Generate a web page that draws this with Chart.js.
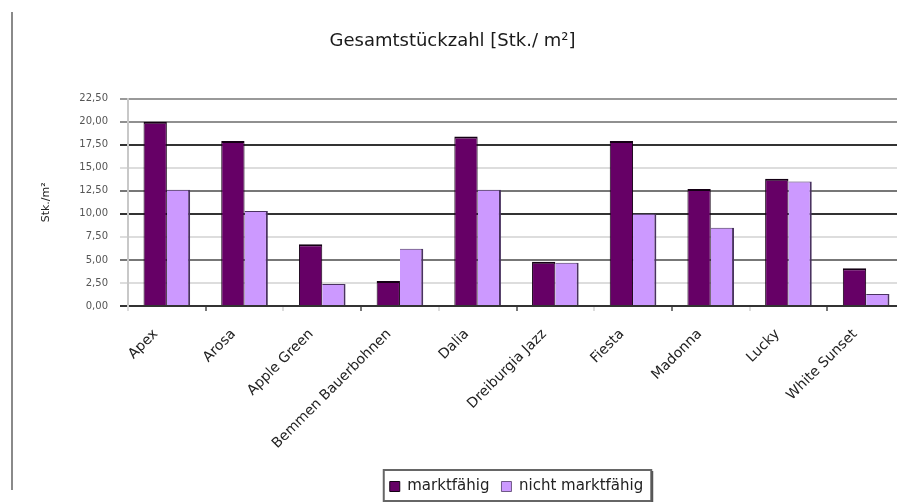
<!DOCTYPE html>
<html>
<head>
<meta charset="utf-8">
<script src="https://cdn.jsdelivr.net/npm/chart.js@4/dist/chart.umd.min.js"></script>
<style>
  html, body { margin: 0; padding: 0; background: #fff; overflow: hidden; }
  #wrap { position: relative; width: 897px; height: 504px; overflow: hidden; }
  #frame { position: absolute; left: 11px; top: 12px; width: 2px; height: 478px; background: #8a8a8a; }
  #myChart { position: absolute; left: 0; top: 0; }
</style>
</head>
<body>
<div id="wrap">
  <div id="frame"></div>
  <canvas id="myChart" width="930" height="504"></canvas>
</div>
<script>
'use strict';

const sorten = [
  'Apex',
  'Arosa',
  'Apple Green',
  'Bemmen Bauerbohnen',
  'Dalia',
  'Dreiburgia Jazz',
  'Fiesta',
  'Madonna',
  'Lucky',
  'White Sunset'
];
const marktfaehig = [20.0, 17.9, 6.7, 2.7, 18.4, 4.8, 17.9, 12.7, 13.8, 4.1];
const nichtMarktfaehig = [12.6, 10.3, 2.4, 6.2, 12.6, 4.7, 10.0, 8.5, 13.5, 1.3];
const yTicks = [0, 2.5, 5, 7.5, 10, 12.5, 15, 17.5, 20, 22.5];

const titel = 'Gesamtstückzahl [Stk./ m²]';
const achsenTitel = 'Stk./m²';
const serienNamen = ['marktfähig', 'nicht marktfähig'];

// gridline shades, bottom to top
const gridShades = ['#333', '#ddd', '#777', '#ddd', '#333', '#777', '#ddd', '#333', '#909090', '#999'];
const xTickShades = ['#ddd', '#777'];

const font = 'DejaVu Sans';

// frame around the legend, with a darker edge on the right
const legendBox = {
  id: 'legendBox',
  afterDraw(chart) {
    const boxes = chart.legend.legendHitBoxes;
    if (!boxes || !boxes.length) return;
    const left = Math.min(...boxes.map(b => b.left)) - 6;
    const right = Math.max(...boxes.map(b => b.left + b.width)) + 8;
    const ctx = chart.ctx;
    ctx.save();
    ctx.strokeStyle = '#666';
    ctx.lineWidth = 2;
    ctx.strokeRect(left, 470, right - left, 31);
    ctx.fillStyle = '#555';
    ctx.fillRect(right, 471, 2, 31);
    ctx.restore();
  }
};

function fmt(v) {
  return v.toFixed(2).replace('.', ',');
}

let ctx = document.getElementById('myChart').getContext('2d');
let chart = new Chart(ctx, {
  type: 'bar',
  data: {
    labels: sorten,
    datasets: [{
      label: serienNamen[0],
      data: marktfaehig,
      backgroundColor: '#660066',
      borderColor: '#140014',
      borderWidth: { top: 2, right: 1, left: 1, bottom: 0 },
      borderSkipped: 'bottom'
    },
    {
      label: serienNamen[1],
      data: nichtMarktfaehig,
      backgroundColor: '#cc99ff',
      borderColor: '#4a3360',
      borderWidth: { top: 1, right: 2, left: 0, bottom: 0 },
      borderSkipped: 'bottom'
    }]
  },
  options: {
    responsive: false,
    animation: false,
    devicePixelRatio: 1,
    layout: { padding: { left: 0, right: 25, top: 0, bottom: 0 } },
    datasets: {
      bar: { categoryPercentage: 0.6, barPercentage: 1.0 }
    },
    plugins: {
      title: {
        display: true,
        text: titel,
        color: '#1a1a1a',
        font: { family: font, size: 18, weight: 'normal' },
        padding: { top: 31, bottom: 46 }
      },
      legend: {
        position: 'bottom',
        fullSize: false,
        labels: {
          color: '#222',
          font: { family: font, size: 15 },
          boxWidth: 10,
          boxHeight: 10,
          padding: 12
        }
      },
      tooltip: { enabled: false }
    },
    scales: {
      x: {
        afterFit: (scale) => { scale.height = 161; },
        border: { display: false },
        grid: {
          drawOnChartArea: false,
          drawTicks: true,
          tickLength: 5,
          lineWidth: 2,
          color: (c) => xTickShades[c.index % 2]
        },
        ticks: {
          color: '#222',
          font: { family: font, size: 14 },
          minRotation: 45,
          maxRotation: 45,
          padding: 15,
          labelOffset: -11
        }
      },
      y: {
        min: 0,
        max: 22.5,
        afterFit: (scale) => { scale.width = 128; },
        afterBuildTicks: (scale) => { scale.ticks = yTicks.map(v => ({ value: v })); },
        border: { display: true, color: '#c8c8c8', width: 2 },
        grid: {
          lineWidth: 2,
          tickLength: 8,
          color: (c) => gridShades[c.index]
        },
        ticks: {
          color: '#555',
          font: { family: font, size: 10 },
          padding: 12,
          callback: (v) => fmt(v)
        },
        title: {
          display: true,
          text: achsenTitel,
          color: '#222',
          font: { family: font, size: 11 },
          padding: { top: 40, bottom: 0 }
        }
      }
    }
  },
  plugins: [legendBox]
});
</script>
</body>
</html>
